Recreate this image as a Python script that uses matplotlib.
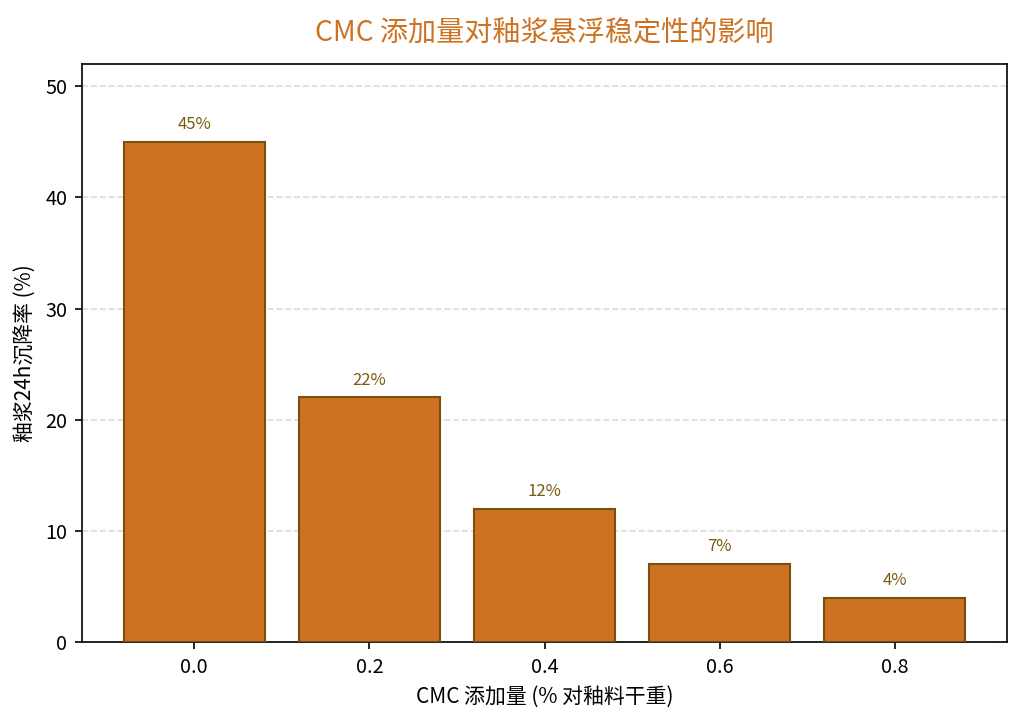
import matplotlib
matplotlib.use("Agg")
import matplotlib.pyplot as plt

plt.rcParams['font.family'] = ['Noto Sans CJK SC', 'DejaVu Sans']
plt.rcParams['axes.unicode_minus'] = False

categories = ['0.0', '0.2', '0.4', '0.6', '0.8']
values = [45, 22, 12, 7, 4]
labels = ['45%', '22%', '12%', '7%', '4%']

fig = plt.figure(figsize=(6.847, 4.82), dpi=150)
ax = fig.add_axes([82/1027, 1-642/723, (1007-82)/1027, (642-64)/723])

x = list(range(len(categories)))
ax.bar(x, values, width=0.805, color='#CC7220', edgecolor='#7A5010', linewidth=1.0, zorder=3)
for xi, v, lab in zip(x, values, labels):
    ax.text(xi, v + 0.8, lab, ha='center', va='bottom', fontsize=8, color='#7A5A10')

ax.set_xticks(x)
ax.set_xticklabels(categories, fontsize=9.5)
ax.tick_params(axis='y', labelsize=9.5)
ax.set_xlim(-0.64, 4.64)
ax.set_ylim(0, 52)
ax.set_yticks([0, 10, 20, 30, 40, 50])
ax.yaxis.grid(True, linestyle='--', color='#cccccc', alpha=0.7, linewidth=0.8, zorder=0)
ax.set_axisbelow(True)

ax.set_xlabel('CMC 添加量 (% 对釉料干重)', fontsize=10, fontweight='medium')
ax.set_ylabel('釉浆24h沉降率 (%)', fontsize=10, fontweight='medium')
ax.set_title('CMC 添加量对釉浆悬浮稳定性的影响', fontsize=13.5, color='#CC7220', pad=11, fontweight='medium')

fig.savefig('out.png', dpi=150)
